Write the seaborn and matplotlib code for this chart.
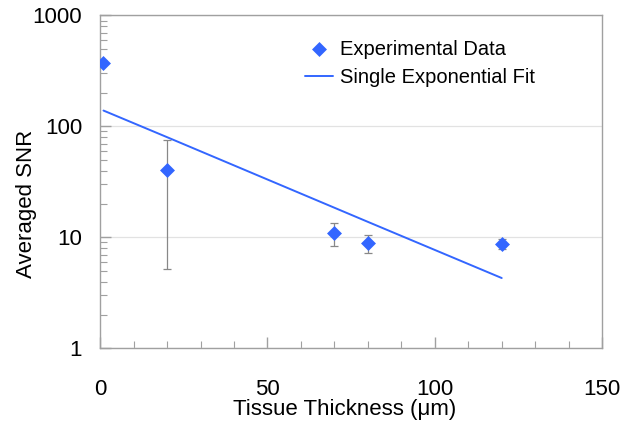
import numpy as np
import pandas as pd
import matplotlib
matplotlib.use("Agg")
import matplotlib.pyplot as plt
import seaborn as sns
from matplotlib.ticker import MultipleLocator, LogLocator, NullFormatter, FixedLocator

# data
thickness = [1, 20, 70, 80, 120]
snr = [370, 40.4, 10.9, 8.9, 8.7]
err_low = [0, 35.2, 2.5, 1.7, 0.9]
err_high = [0, 34.6, 2.7, 1.7, 0.9]

fit_x = [1, 20, 70, 80, 120]
fit_y = [139, 80, 18.5, 13.8, 4.3]

blue = "#3366FF"
gray = "#A0A0A0"

sns.set_style("white")
plt.rcParams["font.family"] = ["Liberation Sans", "DejaVu Sans"]
plt.rcParams["text.color"] = "black"

df = pd.DataFrame({"x": thickness, "y": snr})
fit_df = pd.DataFrame({"x": fit_x, "y": fit_y})

fig = plt.figure(figsize=(6.22, 4.3), dpi=100)
ax = fig.add_axes([0.161, 0.190, 0.807, 0.774])

# error bars first so the markers sit on top
ax.errorbar(thickness, snr, yerr=[err_low, err_high], fmt="none",
            ecolor="#888888", elinewidth=0.9, capsize=3, capthick=0.9, zorder=2)

sns.lineplot(data=fit_df, x="x", y="y", color=blue, linewidth=1.4,
             ax=ax, label="Single Exponential Fit", zorder=3)
sns.scatterplot(data=df, x="x", y="y", marker="D", s=58, color=blue,
                edgecolor=blue, linewidth=0, ax=ax, label="Experimental Data", zorder=4)

ax.set_yscale("log")
ax.set_xlim(0, 150)
ax.set_ylim(1, 1000)

ax.xaxis.set_major_locator(MultipleLocator(50))
ax.xaxis.set_minor_locator(MultipleLocator(10))
ax.yaxis.set_major_locator(FixedLocator([1, 10, 100, 1000]))
ax.yaxis.set_minor_locator(LogLocator(base=10, subs=np.arange(2, 10)))
ax.yaxis.set_minor_formatter(NullFormatter())
ax.set_yticklabels(["1", "10", "100", "1000"])

ax.grid(axis="y", which="major", color="#E2E2E2", linewidth=0.9)
ax.set_axisbelow(True)

for s in ax.spines.values():
    s.set_color(gray)
    s.set_linewidth(1.0)

ax.tick_params(axis="both", which="both", bottom=True, left=True,
               top=False, right=False, direction="in", color=gray)
ax.tick_params(axis="both", which="major", length=8, width=1.0,
               labelsize=16, labelcolor="black")
ax.tick_params(axis="both", which="minor", length=5, width=0.8)
ax.tick_params(axis="x", which="major", pad=22)
ax.tick_params(axis="y", which="major", pad=13)

ax.set_xlabel("Tissue Thickness (\u03bcm)", fontsize=16, color="black")
ax.set_ylabel("Averaged SNR", fontsize=16, color="black")
ax.xaxis.set_label_coords(0.488, -0.153)
ax.yaxis.set_label_coords(-0.125, 0.433)

handles, labels = ax.get_legend_handles_labels()
order = [labels.index("Experimental Data"), labels.index("Single Exponential Fit")]
ax.legend([handles[i] for i in order], [labels[i] for i in order],
          loc="upper left", bbox_to_anchor=(0.408, 0.927), frameon=False,
          fontsize=14.5, handlelength=1.4, labelspacing=0.48, handletextpad=0.32,
          borderpad=0, borderaxespad=0)

fig.savefig("out.png", dpi=100)
